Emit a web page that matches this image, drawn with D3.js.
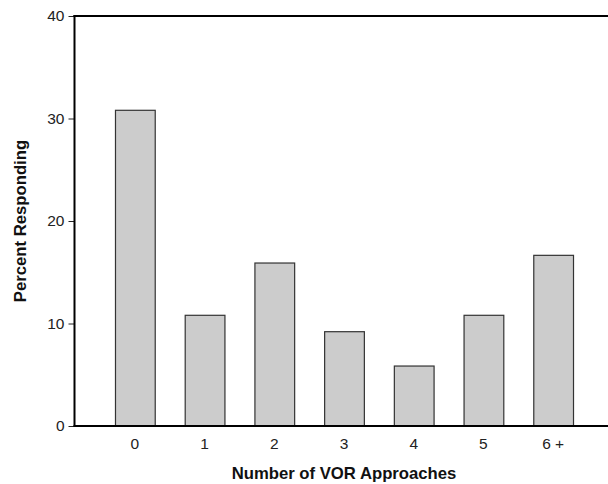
<!DOCTYPE html>
<html><head><meta charset="utf-8">
<script src="https://cdn.jsdelivr.net/npm/d3@7"></script>
<style>body{margin:0;background:#fff}svg{display:block}text{font-family:"Liberation Sans",Arial,sans-serif}</style>
</head><body>
<svg id="c" width="608" height="484"></svg>
<script>
const categories = ["0","1","2","3","4","5","6 +"];
const values = [30.8, 10.8, 15.9, 9.2, 5.85, 10.8, 16.65];
const yTicks = [0,10,20,30,40];

const svg = d3.select("#c");
const x = d3.scaleBand().domain(categories).range([100,588]).paddingInner(0.43).paddingOuter(0.215);
const y = d3.scaleLinear().domain([0,40]).range([426,16]);
const left = 74.5;

svg.selectAll("rect.bar").data(values).join("rect")
  .attr("class","bar")
  .attr("x",(d,i)=>x(categories[i])+0.5)
  .attr("width",x.bandwidth())
  .attr("y",d=>y(d))
  .attr("height",d=>y(0)-y(d))
  .attr("fill","#cccccc").attr("stroke","#333").attr("stroke-width",1.2);

// y axis
const ya = svg.append("g").attr("transform",`translate(${left},0)`)
  .call(d3.axisLeft(y).tickValues(yTicks).tickSize(6).tickPadding(4));
ya.select(".domain").remove();
ya.selectAll("text").attr("font-size",15.5).attr("fill","#222").style("font-family","'Liberation Sans',Arial,sans-serif");
ya.selectAll("line").attr("stroke","#222");

// x axis labels
const xa = svg.append("g").attr("transform","translate(0,426)")
  .call(d3.axisBottom(x).tickSize(0).tickPadding(12));
xa.select(".domain").remove();
xa.selectAll("text").attr("font-size",15.5).attr("fill","#222").style("font-family","'Liberation Sans',Arial,sans-serif");

// frame lines
svg.append("line").attr("x1",left).attr("x2",left).attr("y1",15).attr("y2",427).attr("stroke","#000").attr("stroke-width",2);
svg.append("line").attr("x1",left-1).attr("x2",608).attr("y1",16).attr("y2",16).attr("stroke","#000").attr("stroke-width",2);
svg.append("line").attr("x1",left-1).attr("x2",608).attr("y1",426).attr("y2",426).attr("stroke","#000").attr("stroke-width",2);

svg.append("text").attr("x",344).attr("y",479).attr("text-anchor","middle")
  .attr("font-size",16.7).attr("font-weight","bold").attr("fill","#111").text("Number of VOR Approaches");
svg.append("text").attr("transform","translate(26,221) rotate(-90)").attr("text-anchor","middle")
  .attr("font-size",16.7).attr("font-weight","bold").attr("fill","#111").text("Percent Responding");
</script>
</body></html>
